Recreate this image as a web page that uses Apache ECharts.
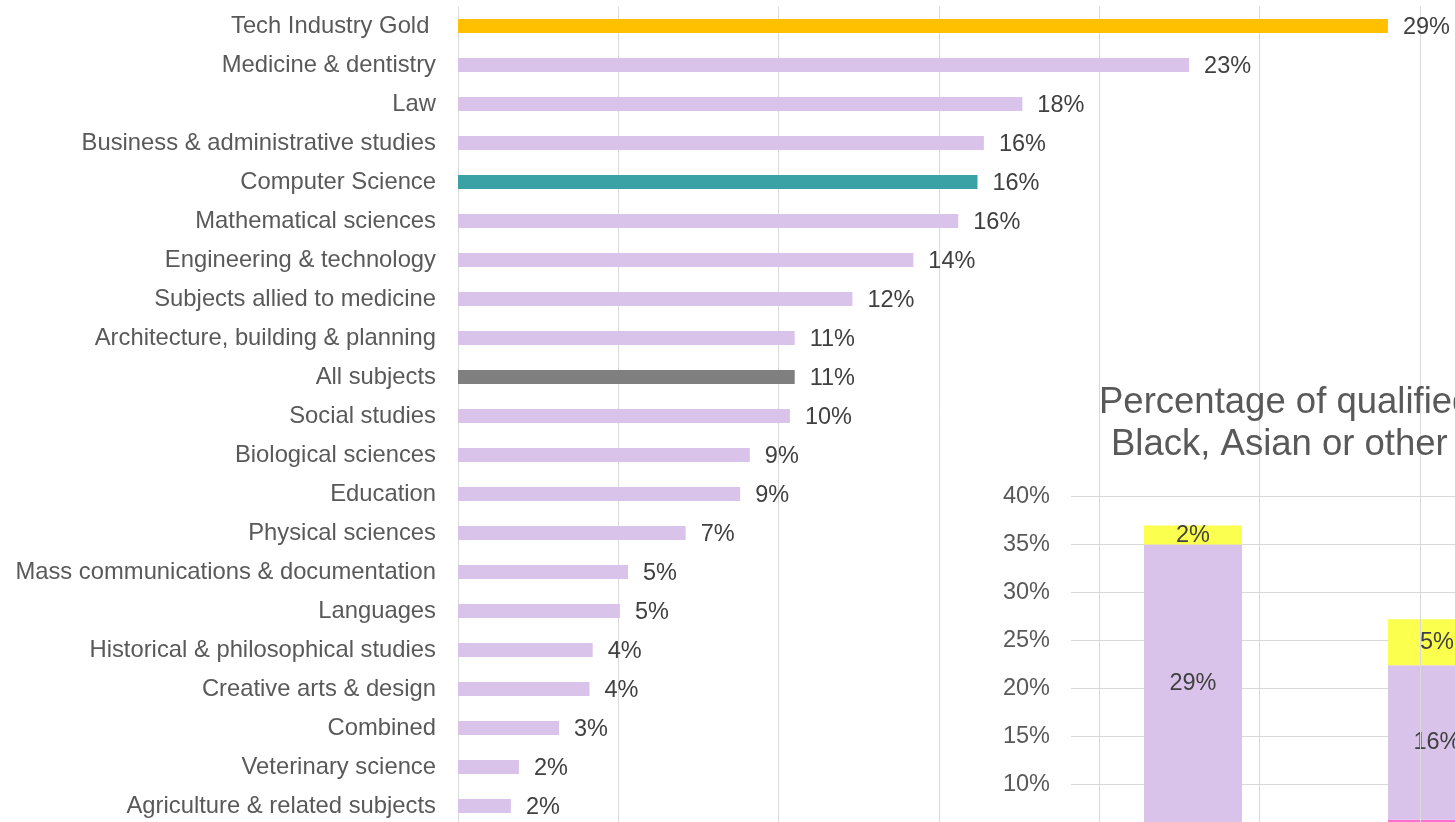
<!DOCTYPE html>
<html>
<head>
<meta charset="utf-8">
<title>Subjects chart</title>
<script src="https://cdn.jsdelivr.net/npm/echarts@6/dist/echarts.min.js"></script>
<style>
  html, body { margin: 0; padding: 0; background: #fff; }
  #chart { width: 1455px; height: 822px; }
</style>
</head>
<body>
<div id="chart"></div>
<script>
// subject ranking (left chart), values in %
const subjects = [
  "Tech Industry Gold ", "Medicine & dentistry", "Law", "Business & administrative studies",
  "Computer Science", "Mathematical sciences", "Engineering & technology",
  "Subjects allied to medicine", "Architecture, building & planning", "All subjects",
  "Social studies", "Biological sciences", "Education", "Physical sciences",
  "Mass communications & documentation", "Languages", "Historical & philosophical studies",
  "Creative arts & design", "Combined", "Veterinary science", "Agriculture & related subjects"
];
const subjectValues = [29.0, 22.8, 17.6, 16.4, 16.2, 15.6, 14.2, 12.3, 10.5, 10.5, 10.35,
  9.1, 8.8, 7.1, 5.3, 5.05, 4.2, 4.1, 3.15, 1.9, 1.65];

// stacked chart (right, partly cut off)
const groups = ["Tech Industry Gold", "Computer Science"];
const blackVals = [6, 6.3];
const asianVals = [29, 16.1];
const otherVals = [2, 4.8];
const pctTicks = [0, 40, 5]; // min, max, step

const FONT = "'Liberation Sans', Arial, sans-serif";
const pct = (p) => Math.round(p.value) + "%";

const highlight = {
  "Tech Industry Gold ": "#FFC000",
  "Computer Science": "#3AA1A5",
  "All subjects": "#7F7F7F"
};

const chart = echarts.init(document.getElementById("chart"));
chart.setOption({
  animation: false,
  title: [
    {
      text: "Percentage of qualified students from",
      left: 1099, top: 384, padding: 0,
      textStyle: { fontFamily: FONT, fontSize: 36.5, fontWeight: "normal", color: "#595959" }
    },
    {
      text: "Black, Asian or other minority ethnic groups",
      left: 1111, top: 426, padding: 0,
      textStyle: { fontFamily: FONT, fontSize: 36.5, fontWeight: "normal", color: "#595959" }
    }
  ],
  grid: [
    { left: 458, top: 6.5, width: 962, height: 819, outerBoundsMode: "none" },
    { left: 1071, top: 496.7, width: 488, height: 383.3, outerBoundsMode: "none" }
  ],
  xAxis: [
    {
      gridIndex: 0, type: "value", min: 0, max: 30, interval: 5, z: 1.5,
      axisLine: { show: false }, axisTick: { show: false }, axisLabel: { show: false },
      splitLine: { lineStyle: { color: "#D9D9D9", width: 1 } }
    },
    {
      gridIndex: 1, type: "category", data: groups, z: 0,
      axisLine: { show: false }, axisTick: { show: false },
      axisLabel: { fontFamily: FONT, fontSize: 23.5, color: "#595959" }
    }
  ],
  yAxis: [
    {
      gridIndex: 0, type: "category", data: subjects, inverse: true, z: 1.5,
      axisLine: { show: false }, axisTick: { show: false },
      axisLabel: { fontFamily: FONT, fontSize: 23.8, color: "#595959", margin: 22, padding: [3, 0, 0, 0] }
    },
    {
      gridIndex: 1, type: "value", min: pctTicks[0], max: pctTicks[1], interval: pctTicks[2], z: 0,
      axisLine: { show: false }, axisTick: { show: false },
      axisLabel: { fontFamily: FONT, fontSize: 23.5, color: "#595959", margin: 21, formatter: "{value}%" },
      splitLine: { lineStyle: { color: "#D9D9D9", width: 1 } }
    }
  ],
  series: [
    {
      type: "bar", xAxisIndex: 0, yAxisIndex: 0, z: 2, barWidth: 14,
      data: subjectValues.map((v, i) => ({
        value: v,
        itemStyle: { color: highlight[subjects[i]] || "#DAC3EB" }
      })),
      label: {
        show: true, position: "right", distance: 15, offset: [0, 2], formatter: pct,
        fontFamily: FONT, fontSize: 23.5, color: "#404040"
      }
    },
    {
      name: "Black", type: "bar", stack: "eth", xAxisIndex: 1, yAxisIndex: 1, z: 1, barWidth: 98,
      data: blackVals, itemStyle: { color: "#FF6FD0" },
      label: { show: true, position: "inside", formatter: pct, fontFamily: FONT, fontSize: 23.5, color: "#404040" }
    },
    {
      name: "Asian", type: "bar", stack: "eth", xAxisIndex: 1, yAxisIndex: 1, z: 1, barWidth: 98,
      data: asianVals, itemStyle: { color: "#DAC3EB" },
      label: { show: true, position: "inside", formatter: pct, fontFamily: FONT, fontSize: 23.5, color: "#404040" }
    },
    {
      name: "Other", type: "bar", stack: "eth", xAxisIndex: 1, yAxisIndex: 1, z: 1, barWidth: 98,
      data: otherVals, itemStyle: { color: "#FBFF4E" },
      label: { show: true, position: "inside", formatter: pct, fontFamily: FONT, fontSize: 23.5, color: "#404040" }
    }
  ]
});
</script>
</body>
</html>
